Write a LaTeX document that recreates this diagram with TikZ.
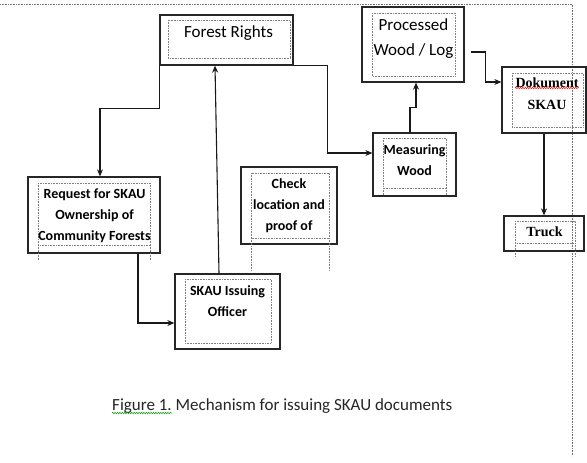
\documentclass[tikz,border=0pt]{standalone}
\usepackage{fontspec}
\setmainfont{Carlito}
\newfontfamily\timesfont{Liberation Serif}
\usetikzlibrary{arrows.meta}
\usetikzlibrary{decorations.pathmorphing}

\begin{document}
\begin{tikzpicture}[
    x=1pt, y=-1pt,
    box/.style={
        % The shape:
        rectangle,
        % The border
        line width=1.3pt,
        draw=black!85,
        % No text inside
        inner sep=0pt
    },
    dotbox/.style={
        densely dotted,
        line width=0.6pt,
        draw=black!50
    },
    boxtext/.style={
        inner sep=0pt,
        align=center,
        % Font
        font=\bfseries\fontsize{14}{21}\selectfont
    },
    bigtext/.style={
        inner sep=0pt,
        align=center,
        font=\fontsize{17}{25}\selectfont
    },
    serftext/.style={
        inner sep=0pt,
        align=center,
        font=\timesfont\bfseries\fontsize{14}{22.5}\selectfont
    },
    conn/.style={
        line width=1.1pt,
        draw=black!90,
        -{Stealth[length=7pt,width=6pt]}
    },
    pageline/.style={
        densely dotted,
        line width=0.6pt,
        draw=black!55
    },
    squiggle/.style={
        decorate,
        decoration={snake, amplitude=0.7pt, segment length=2.4pt},
        line width=0.5pt
    }]

    \fill[white] (0,0) rectangle (587,463);
    \useasboundingbox (0,0) rectangle (587,463);

    % page margin
    \draw[pageline] (0,4) -- (572,4) -- (572,456);

    % The boxes
    \node[box, minimum width=133pt, minimum height=50pt] (rights) at (226.5,40) {};
    \node[box, minimum width=102pt, minimum height=75pt] (processed) at (413,44.5) {};
    \node[box, minimum width=84pt, minimum height=66pt] (dokument) at (544,100) {};
    \node[box, minimum width=132pt, minimum height=76pt] (request) at (94,215) {};
    \node[box, minimum width=96pt, minimum height=77pt] (check) at (289,205.5) {};
    \node[box, minimum width=83pt, minimum height=63pt] (measuring) at (414.5,164.5) {};
    \node[box, minimum width=105pt, minimum height=75pt] (officer) at (227.5,311.5) {};
    \node[box, minimum width=80pt, minimum height=35pt] (truck) at (544,233.5) {};

    % dotted text frames
    \foreach \xa/\ya/\xb/\yb/\yc in {168/20/290/58/58, 372/13/455/76/76,
        512/73/583/127/127, 38/183/150/245/260, 251/173/329/238/271,
        383/138/446/188/196, 185/279/271/343/343, 515/221/575/243/256}
    {
        \draw[dotbox] (\xa,\ya) rectangle (\xb,\yb);
        \draw[dotbox] (\xa,\yb) -- (\xa,\yc) (\xb,\yb) -- (\xb,\yc);
    }

    % The texts
    \node[bigtext] (rights-t) at (228.5,33) {Forest Rights};
    \node[bigtext] (processed-t) at (413.5,39) {Processed\\Wood / Log};
    \node[serftext] (dokument-t) at (547,93.5) {Dokument\\SKAU};
    \node[boxtext] (request-t) at (94.5,216) {Request for SKAU\\Ownership of\\Community Forests};
    \node[boxtext] (check-t) at (289,206) {Check\\location and\\proof of};
    \node[boxtext] (measuring-t) at (414.5,160.5) {Measuring\\Wood};
    \node[boxtext] (officer-t) at (227.5,301) {SKAU Issuing\\Officer};
    \node[serftext] (truck-t) at (544.5,232) {Truck};

    \draw[squiggle, red] (515,88) -- (579,88);

    % The connectors
    \draw[conn] (rights.south west) -- ++(0,43) -| ([xshift=6pt]request.north);
    \draw[conn] ([xshift=44pt]request.south) |- ([yshift=-11.5pt]officer.west);
    \draw[conn] ([xshift=-8.5pt]officer.north) -- ([xshift=-11.5pt]rights.south);
    \draw[conn] (rights.south east) -- ++(34,0) |- ([yshift=11.5pt]measuring.west);
    \draw[conn] ([xshift=-4.5pt]measuring.north) -- ++(0,-25) -| ([xshift=3pt]processed.south);
    \coordinate (processed-out) at ([xshift=6pt,yshift=-7.5pt]processed.east);
    \draw[conn] (processed-out) -- ++(15,0) |- ([yshift=18pt]dokument.west);
    \draw[conn] (dokument.south) -- (dokument.south |- truck.north);

    % caption
    \node[anchor=base west, inner sep=0pt, text=black!85,
        font=\fontsize{17}{20}\selectfont] (caption) at (112,410)
        {Figure 1.\ Mechanism for issuing SKAU documents};
    \draw[squiggle, green!60!black] ([yshift=-3pt]caption.base west) -- ++(60,0);
\end{tikzpicture}
\end{document}
